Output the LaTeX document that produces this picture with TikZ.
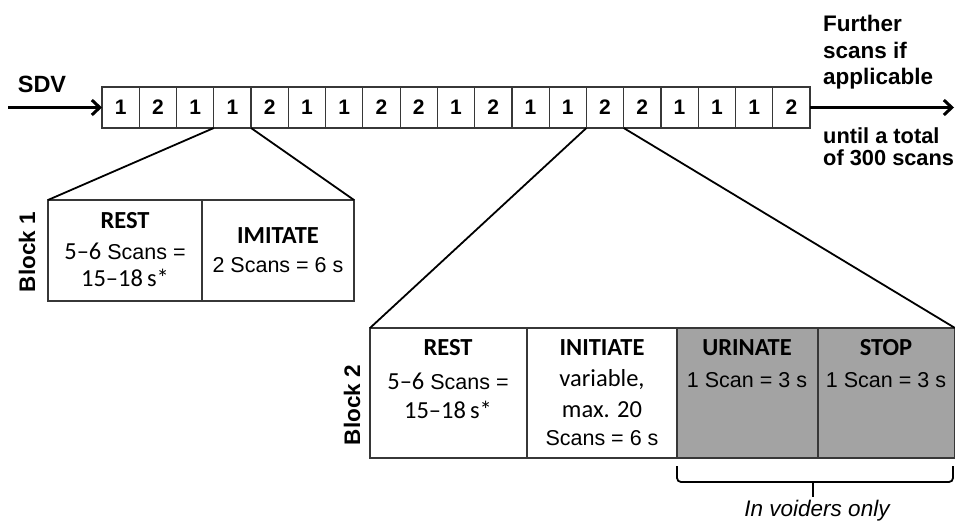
\documentclass[tikz,border=0pt]{standalone}
\usepackage{fontspec}
\setmainfont{Liberation Sans}
\newfontfamily\calfont{Carlito}
\usetikzlibrary{arrows.meta}
\definecolor{boxgray}{RGB}{163,163,163}
\definecolor{linegray}{RGB}{55,55,55}
\tikzset{
  seqcell/.style={draw=linegray, line width=1.2pt, minimum width=37.263pt, minimum height=41pt,
    anchor=north west, inner sep=0pt, outer sep=0pt, font=\bfseries\fontsize{21}{21}\selectfont},
  blockcell/.style={draw=linegray, line width=1.3pt, anchor=north west, inner sep=0pt, outer sep=0pt},
  grayfill/.style={fill=boxgray},
  bigarrow/.style={line width=3.4pt, -{Straight Barb[length=8pt,width=15pt,line width=3pt]}},
  diag/.style={line width=1.8pt, black},
  bracestyle/.style={line width=1.8pt, black, rounded corners=4pt},
  boldlbl/.style={inner sep=0pt, font=\bfseries\fontsize{22.5}{25}\selectfont},
  head/.style={inner sep=0pt, font=\calfont\bfseries\fontsize{24.5}{26}\selectfont},
  bodyarial/.style={inner sep=0pt, font=\fontsize{21.5}{24}\selectfont},
  bodycal/.style={inner sep=0pt, font=\calfont\fontsize{24.5}{26}\selectfont},
}
\begin{document}
\begin{tikzpicture}[x=1pt,y=-1pt]
\useasboundingbox (0,0) rectangle (955,523);

% sequence of scans
\foreach \n [count=\i] in {1,2,1,1,2,1,1,2,2,1,2,1,1,2,2,1,1,1,2}
  \node[seqcell] (c\i) at ({102+(\i-1)*37.263},87) {\n};

\node[boldlbl, font=\bfseries\fontsize{23.5}{25}\selectfont] (sdv) at (42,84) {SDV};
\coordinate (sdvstart) at (8,107.5);
\draw[bigarrow] (sdvstart) -- (c1.west);
\coordinate (arrowend) at (954,107.5);
\draw[bigarrow] (c19.east) -- (arrowend);

\node[boldlbl, anchor=north west, align=left, font=\bfseries\fontsize{22.5}{26.5}\selectfont] (further) at (823,15)
  {Further\\scans if\\applicable};
\node[boldlbl, anchor=north west, align=left, font=\bfseries\fontsize{21.8}{22}\selectfont] (until) at (823,127)
  {until a total\\of 300 scans};

% Block 1
\node[blockcell, minimum width=154pt, minimum height=101pt] (b1rest) at (48,200) {};
\node[blockcell, minimum width=152pt, minimum height=101pt] (b1imit) at (202,200) {};
\node[boldlbl, rotate=90] (blk1) at (27,252) {Block 1};

\node[head] (b1resth) at (125,221) {REST};
\node[inner sep=0pt] (b1rest2) at (125,251) {{\calfont\fontsize{24.5}{26}\selectfont 5–6}{\fontsize{21.5}{24}\selectfont\ Scans =}};
\node[bodycal] (b1rest3) at (125,278) {15–18\,s*};
\node[head] (b1imith) at (278,236) {IMITATE};
\node[bodyarial] (b1imit2) at (278,265) {2 Scans = 6 s};

\draw[diag] (c4.south west) -- (b1rest.north west);
\draw[diag] (c4.south east) -- (b1imit.north east);

% Block 2
\node[blockcell, minimum width=157pt, minimum height=130pt] (b2rest) at (370,328) {};
\node[blockcell, minimum width=150pt, minimum height=130pt] (b2init) at (527,328) {};
\node[blockcell, grayfill, minimum width=141pt, minimum height=130pt] (b2urin) at (677,328) {};
\node[blockcell, grayfill, minimum width=137pt, minimum height=130pt] (b2stop) at (818,328) {};
\node[boldlbl, rotate=90] (blk2) at (352,405) {Block 2};

\node[head] (b2resth) at (448,348) {REST};
\node[inner sep=0pt] (b2rest2) at (448,381) {{\calfont\fontsize{24.5}{26}\selectfont 5–6}{\fontsize{21.5}{24}\selectfont\ Scans =}};
\node[bodycal] (b2rest3) at (448,410) {15–18\,s*};

\node[head] (b2inith) at (602,348) {INITIATE};
\node[bodycal] (b2init2) at (602,380) {variable,};
\node[bodycal] (b2init3) at (602,410) {max. 20};
\node[bodyarial] (b2init4) at (602,438) {Scans = 6 s};

\node[head] (b2urinh) at (747,348) {URINATE};
\node[bodyarial] (b2urin2) at (747,380) {1 Scan = 3 s};

\node[head] (b2stoph) at (886,348) {STOP};
\node[bodyarial] (b2stop2) at (886,380) {1 Scan = 3 s};

\draw[diag] (c14.south west) -- (b2rest.north west);
\draw[diag] (c14.south east) -- (b2stop.north east);

% brace
\coordinate (brL) at (677,466);
\coordinate (brR) at (953,466);
\coordinate (brC) at (813,482);
\coordinate (brM) at (813,497);
\draw[bracestyle] (brL) -- (677,482) -- (953,482) -- (brR);
\draw[line width=1.8pt] (brC) -- (brM);
\node[inner sep=0pt, font=\itshape\fontsize{22.5}{24}\selectfont] (voiders) at (817,511) {In voiders only};
\end{tikzpicture}
\end{document}
